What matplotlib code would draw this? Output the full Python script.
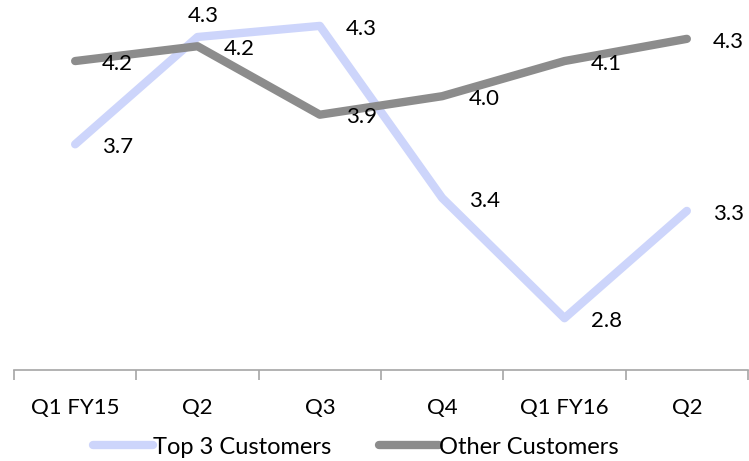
import numpy as np
import matplotlib.pyplot as plt
from matplotlib.ticker import FixedLocator

quarters = ['Q1 FY15', 'Q2', 'Q3', 'Q4', 'Q1 FY16', 'Q2']
top3 = [3.74, 4.32, 4.38, 3.45, 2.80, 3.38]
other = [4.19, 4.27, 3.90, 4.00, 4.19, 4.31]
top3_labels = ['3.7', '4.3', '4.3', '3.4', '2.8', '3.3']
other_labels = ['4.2', '4.2', '3.9', '4.0', '4.1', '4.3']

plt.rcParams['font.family'] = ['Lato', 'DejaVu Sans']

c_top = '#cdd5fb'
c_oth = '#8c8c8c'
fs = 16

f = plt.figure(figsize=(7.49, 4.61), dpi=100)
ax = f.add_axes([14/749, 91/461, 734/749, 370/461])
x = np.arange(len(quarters))

ax.plot(x, top3, color=c_top, lw=6, solid_capstyle='round',
        solid_joinstyle='round', label='Top 3 Customers', zorder=2)
ax.plot(x, other, color=c_oth, lw=6, solid_capstyle='round',
        solid_joinstyle='round', label='Other Customers', zorder=3)

# data labels, Excel style "right" position
for i in range(len(x)):
    if i == 1:
        ax.annotate(top3_labels[i], (x[i], top3[i]), xytext=(4, 15),
                    textcoords='offset points', ha='center', va='center',
                    fontsize=fs, color='black')
    else:
        ax.annotate(top3_labels[i], (x[i], top3[i]), xytext=(19, -2),
                    textcoords='offset points', ha='left', va='center',
                    fontsize=fs, color='black')
    ax.annotate(other_labels[i], (x[i], other[i]), xytext=(19, -2),
                textcoords='offset points', ha='left', va='center',
                fontsize=fs, color='black', zorder=4)

ax.set_xlim(-0.5, 5.5)
ax.set_ylim(2.52, 4.52)
ax.set_yticks([])
for s in ['top', 'left', 'right']:
    ax.spines[s].set_visible(False)
ax.spines['bottom'].set_color('#a6a6a6')
ax.spines['bottom'].set_linewidth(1.2)

ax.set_xticks(x)
ax.set_xticklabels(quarters, fontsize=fs)
ax.tick_params(axis='x', which='major', length=0, pad=20)
ax.xaxis.set_minor_locator(FixedLocator(np.arange(-0.5, 6, 1)))
ax.tick_params(axis='x', which='minor', length=7, width=1.2, color='#a6a6a6')

f.legend(*ax.get_legend_handles_labels(), loc='center',
         bbox_to_anchor=(356/749, 14/461), ncol=2, frameon=False,
         fontsize=17, handlelength=2.55, handletextpad=0.0,
         columnspacing=2.0, borderpad=0, borderaxespad=0)

f.savefig('out.png', dpi=100)
